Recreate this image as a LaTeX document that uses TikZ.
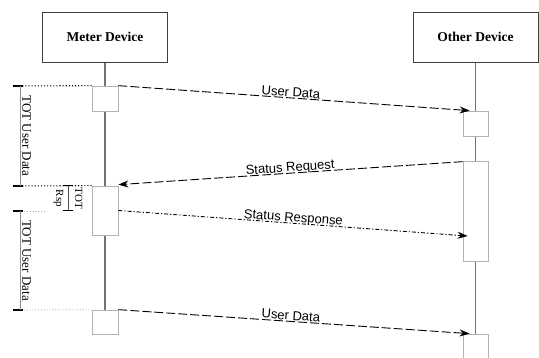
\documentclass[tikz,border=0pt]{standalone}
\usepackage{fontspec}
\setmainfont{Liberation Serif}
\newfontfamily\msgfont{Liberation Sans}
\usetikzlibrary{arrows.meta,backgrounds}

\tikzset{
  head/.style={draw=black!75, line width=0.7pt, minimum width=125pt, minimum height=50pt,
    inner sep=0pt, font=\fontsize{13.5}{16}\selectfont\bfseries},
  act/.style={draw=black!30, line width=0.7pt, fill=white, minimum width=26pt, inner sep=0pt},
  life/.style={draw=black!55, line width=1.1pt},
  msg/.style={-{Stealth[length=10pt,width=7pt]}, line width=0.9pt, black},
  longdash/.style={dash pattern=on 9pt off 3pt},
  dashdot/.style={dash pattern=on 4pt off 2pt on 1.2pt off 2pt},
  msglabel/.style={sloped, above, inner sep=1pt, text depth=0pt, font=\msgfont\fontsize{13}{15}\selectfont},
  guide/.style={dotted, line width=1.1pt, black},
  faintguide/.style={dotted, line width=0.8pt, black!35},
  tick/.style={line width=1.2pt, black},
  span/.style={draw=black!45, line width=0.7pt},
  spanlabel/.style={rotate=-90, inner sep=0pt, font=\fontsize{13}{15}\selectfont},
}

\begin{document}
\begin{tikzpicture}[x=1pt, y=-1pt]
  \clip (0,0) rectangle (539,358);

  % participants
  \node[head] (md) at (105,37) {Meter Device};
  \node[head] (od) at (475.5,37) {Other Device};

  % activation bars
  \node[act, minimum height=25pt] (m1) at (105,98.5) {};
  \node[act, minimum height=49pt] (m2) at (105,210.5) {};
  \node[act, minimum height=24pt] (m3) at (105,322) {};
  \node[act, minimum height=25pt, minimum width=25pt] (o1) at (475.5,123.5) {};
  \node[act, minimum height=100pt, minimum width=25pt] (o2) at (475.5,211) {};
  \node[act, minimum height=40pt, minimum width=25pt] (o3) at (475.5,354) {};

  % lifelines, kept behind the activation bars
  \begin{scope}[on background layer]
    \fill[white] (0,0) rectangle (539,358);
    \draw[life] (md.south) -- (m1.north);
    \draw[life] (m1.south) -- (m2.north);
    \draw[life] (m2.south) -- (m3.north);
    \draw[life] (od.south) -- (o1.north);
    \draw[life] (o1.south) -- (o2.north);
    \draw[life] (o2.south) -- (o3.north);
  \end{scope}
  \draw[draw=black!30, line width=0.7pt] (o1.south west) -- (o1.south east);

  % messages
  \draw[msg, longdash] (m1.north east) -- ([xshift=7pt]o1.north west)
    node[msglabel, pos=0.49] (l1) {User Data};
  \draw[msg, longdash] ([yshift=-1pt]o2.north west) -- ([yshift=1pt]m2.north east)
    node[msglabel, pos=0.5] (l2) {Status Request};
  \draw[msg, dashdot] (m2.east) -- ([shift={(5pt,-25pt)}]o2.west)
    node[msglabel, pos=0.5] (l3) {Status Response};
  \draw[msg, longdash] (m3.north east) -- ([xshift=7pt]o3.north west)
    node[msglabel, pos=0.49] (l4) {User Data};

  % timeout markers on the left
  \coordinate (a1) at (13,86);
  \coordinate (a2) at (13,186);
  \coordinate (a3) at (13,211);
  \coordinate (a4) at (13,310);
  \coordinate (a3end) at (46,211);

  \draw[guide] (a1) -- (m1.north west);
  \draw[guide] (a2) -- (m2.north west);
  \draw[faintguide] (a3) -- (a3end);
  \draw[faintguide] (a4) -- (m3.north west);

  \draw[tick] (a1) -- ++(10,0);
  \draw[tick] (a2) -- ++(10,0);
  \draw[tick] (a3) -- ++(10,0);
  \draw[tick] (a4) -- ++(10,0);

  \draw[span] ([xshift=7pt]a1) -- ([xshift=7pt]a2);
  \draw[span] ([xshift=7pt]a3) -- ([xshift=7pt]a4);
  \node[spanlabel] (s1) at (26.5,136) {TOT User Data};
  \node[spanlabel] (s2) at (26.5,260.5) {TOT User Data};

  % response timeout
  \coordinate (r1) at (68,186);
  \coordinate (r2) at (68,211);
  \draw[span, black!70] (r1) -- (r2);
  \draw[line width=1pt] ([xshift=-5pt]r1) -- ([xshift=5pt]r1);
  \draw[line width=1pt] ([xshift=-5pt]r2) -- ([xshift=5pt]r2);
  \node[spanlabel, align=center, font=\fontsize{11}{19}\selectfont] (s3) at (68,198.5) {TOT\\Rsp};
\end{tikzpicture}
\end{document}
